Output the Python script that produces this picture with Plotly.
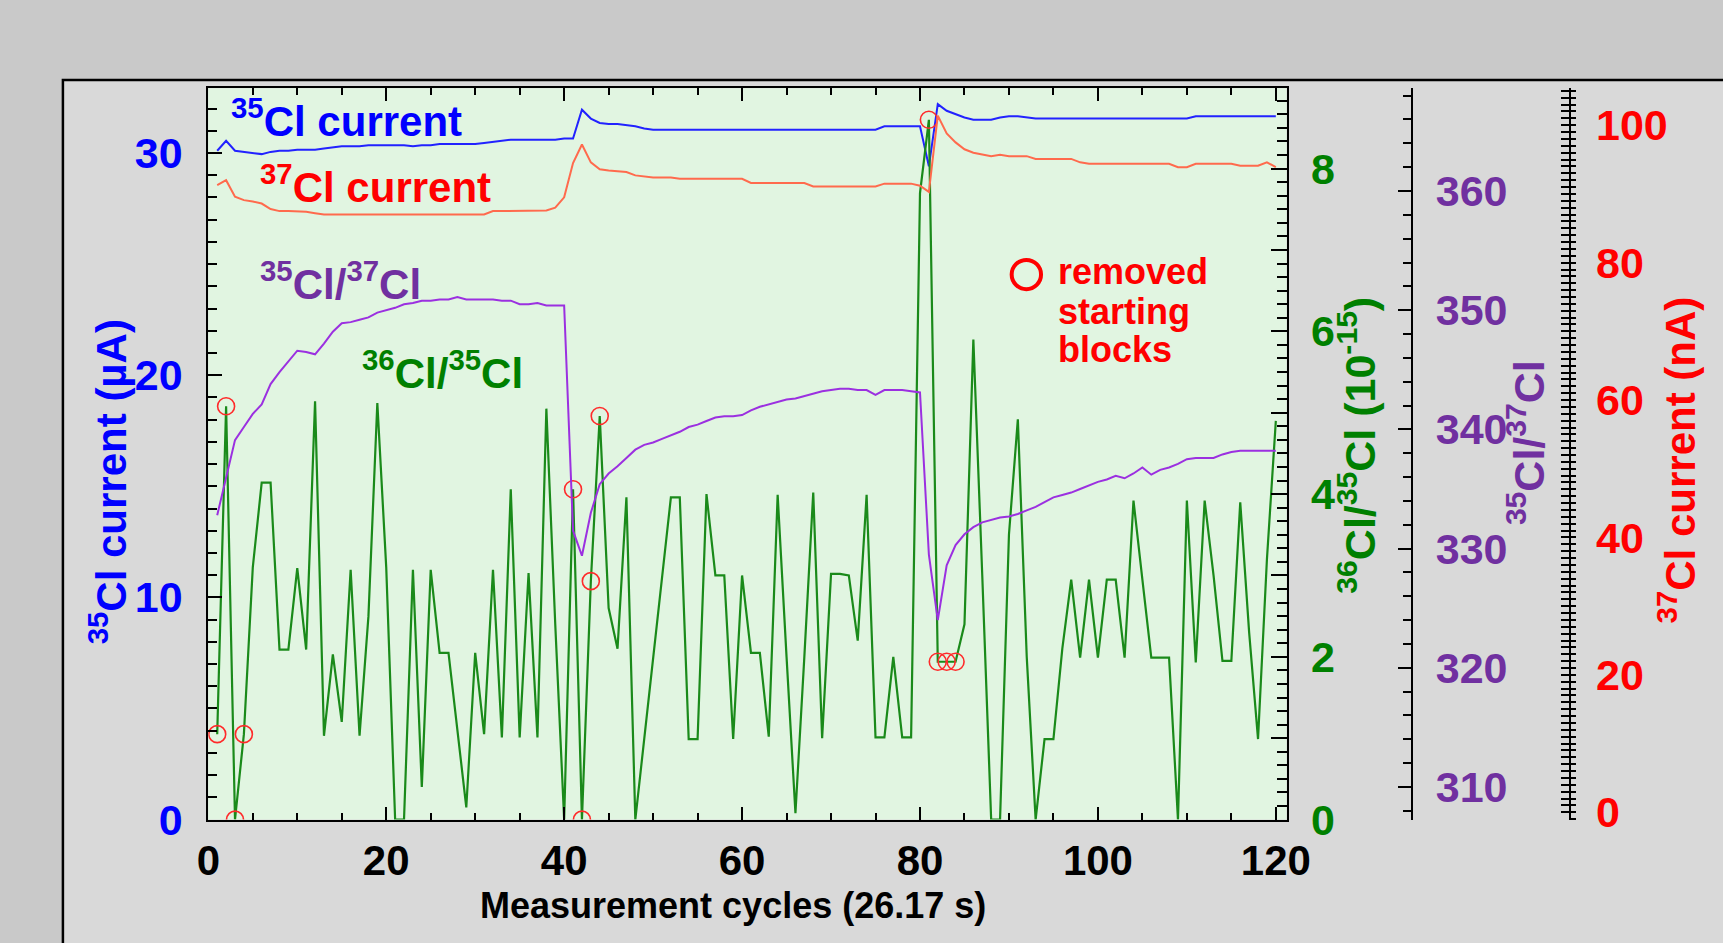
import plotly.graph_objects as go

W, H = 1723, 943

# ---------------- data ----------------
cycles = list(range(1, 121))

cl35_current_uA = [
    30.1, 30.55, 30.1, 30.05, 30.0, 29.95, 30.05, 30.1, 30.1, 30.15,
    30.15, 30.15, 30.2, 30.25, 30.3, 30.3, 30.3, 30.35, 30.35, 30.35,
    30.35, 30.35, 30.3, 30.35, 30.35, 30.4, 30.4, 30.4, 30.4, 30.4,
    30.45, 30.5, 30.55, 30.6, 30.6, 30.6, 30.6, 30.6, 30.6, 30.65,
    30.65, 31.95, 31.55, 31.35, 31.3, 31.3, 31.25, 31.2, 31.1, 31.05,
    31.05, 31.05, 31.05, 31.05, 31.05, 31.05, 31.05, 31.05, 31.05, 31.05,
    31.05, 31.05, 31.05, 31.05, 31.05, 31.05, 31.05, 31.05, 31.05, 31.05,
    31.05, 31.05, 31.05, 31.05, 31.05, 31.2, 31.2, 31.2, 31.2, 31.2,
    29.4, 32.2, 31.9, 31.75, 31.6, 31.5, 31.5, 31.5, 31.6, 31.65,
    31.65, 31.6, 31.55, 31.55, 31.55, 31.55, 31.55, 31.55, 31.55, 31.55,
    31.55, 31.55, 31.55, 31.55, 31.55, 31.55, 31.55, 31.55, 31.55, 31.55,
    31.65, 31.65, 31.65, 31.65, 31.65, 31.65, 31.65, 31.65, 31.65, 31.65,
]

cl37_current_nA = [
    91.3, 92.0, 89.6, 89.1, 88.9, 88.6, 87.8, 87.5, 87.5, 87.5,
    87.4, 87.2, 87.0, 87.0, 87.0, 87.0, 87.0, 87.0, 87.0, 87.0,
    87.0, 87.0, 87.0, 87.0, 87.0, 87.0, 87.0, 87.0, 87.0, 87.0,
    87.0, 87.5, 87.5, 87.5, 87.5, 87.6, 87.6, 87.6, 88.0, 89.5,
    94.5, 97.2, 94.6, 93.6, 93.4, 93.3, 93.2, 92.7, 92.5, 92.4,
    92.4, 92.4, 92.2, 92.2, 92.2, 92.2, 92.2, 92.2, 92.2, 92.2,
    91.6, 91.6, 91.6, 91.6, 91.6, 91.6, 91.6, 91.1, 91.1, 91.1,
    91.1, 91.1, 91.1, 91.1, 91.1, 91.5, 91.5, 91.5, 91.5, 91.2,
    90.3, 101.4, 98.8, 97.5, 96.5, 96.0, 95.7, 95.5, 95.7, 95.5,
    95.5, 95.5, 95.1, 95.1, 95.1, 95.1, 95.1, 94.6, 94.4, 94.4,
    94.4, 94.4, 94.4, 94.4, 94.4, 94.4, 94.4, 94.4, 93.9, 93.9,
    94.4, 94.4, 94.4, 94.4, 94.4, 94.1, 94.1, 94.1, 94.6, 93.9,
]

ratio_35_37 = [
    332.8, 336.0, 339.1, 340.2, 341.3, 342.1, 343.8, 344.8, 345.7, 346.6,
    346.5, 346.3, 347.2, 348.2, 348.9, 349.0, 349.2, 349.4, 349.8, 350.0,
    350.2, 350.5, 350.6, 350.8, 350.8, 350.9, 350.9, 351.1, 350.9, 350.9,
    350.9, 350.9, 350.8, 350.8, 350.5, 350.5, 350.6, 350.4, 350.4, 350.4,
    331.5, 329.4, 333.0, 335.4, 336.3, 336.9, 337.6, 338.3, 338.7, 338.9,
    339.2, 339.5, 339.8, 340.2, 340.4, 340.7, 341.0, 341.1, 341.1, 341.2,
    341.6, 341.9, 342.1, 342.3, 342.5, 342.6, 342.8, 343.0, 343.2, 343.3,
    343.4, 343.4, 343.3, 343.3, 342.9, 343.3, 343.3, 343.3, 343.2, 343.1,
    329.5, 324.0, 328.6, 330.3, 331.2, 331.8, 332.2, 332.4, 332.6, 332.7,
    332.9, 333.2, 333.5, 333.9, 334.3, 334.5, 334.7, 335.0, 335.3, 335.6,
    335.8, 336.1, 335.9, 336.3, 336.8, 336.2, 336.6, 336.8, 337.1, 337.5,
    337.6, 337.6, 337.6, 337.9, 338.1, 338.2, 338.2, 338.2, 338.2, 338.2,
]

ratio_36_35 = [
    1.05, 5.08, 0.0, 1.05, 3.1, 4.14, 4.14, 2.09, 2.09, 3.09,
    2.09, 5.14, 1.03, 2.03, 1.2, 3.07, 1.03, 2.5, 5.12, 3.1,
    0.0, 0.0, 3.07, 0.4, 3.07, 2.05, 2.05, 1.1, 0.15, 2.05,
    1.05, 3.07, 1.01, 4.06, 1.01, 3.03, 1.01, 5.05, 2.4, 0.0,
    4.06, 0.0, 2.93, 4.96, 2.6, 2.1, 3.96, 0.0, 1.0, 2.0,
    3.0, 3.96, 3.96, 0.99, 0.99, 4.0, 3.0, 3.0, 0.99, 3.0,
    2.05, 2.05, 1.02, 3.99, 2.0, 0.08, 2.0, 4.02, 1.0, 3.02,
    3.02, 3.0, 2.2, 3.99, 1.01, 1.01, 2.0, 1.01, 1.01, 7.7,
    8.6, 1.94, 1.94, 1.94, 2.4, 5.9, 3.0, 0.0, 0.0, 3.5,
    4.92, 2.0, 0.0, 0.99, 0.99, 2.1, 2.95, 1.99, 2.95, 1.99,
    2.95, 2.95, 1.99, 3.92, 2.95, 1.99, 1.99, 1.99, 0.0, 3.92,
    1.93, 3.92, 3.0, 1.95, 1.95, 3.9, 2.3, 0.99, 3.2, 4.9,
]

removed_cycles = [1, 2, 3, 4, 41, 42, 43, 44, 81, 82, 83, 84]

x_tick_vals = [0, 20, 40, 60, 80, 100, 120]
left_tick_vals = [0, 10, 20, 30]
green_tick_vals = [0, 2, 4, 6, 8]
green_long_ticks = [0, 1, 2, 3, 4, 5, 6, 7, 8]
purple_tick_vals = [310, 320, 330, 340, 350, 360]
red_tick_vals = [0, 20, 40, 60, 80, 100]

# ---------------- styling ----------------
FONT = "Liberation Sans, Arial, Helvetica, sans-serif"
BLUE = "#0000ff"
RED = "#ff0000"
PURPLE_T = "#7030a0"
GREEN_T = "#008000"
LINE_BLUE = "#2222ff"
LINE_RED = "#ff6a4d"
LINE_PURPLE = "#9b30e0"
LINE_GREEN = "#1a8a1a"
PAPER = "#c9c9c9"
TICK_SIZE = 43


def px(x):
    return x / W


def py(y):
    return 1 - y / H


X0, X1 = 200.5, 1301.7
YT, YB = 90.5, 841.0
xdom = [px(X0), px(X1)]
ydom = [py(YB), py(YT)]

G_RANGE = [0, (YB - YT) / 83.5]
R_RANGE = [(833.5 - YB) / 7.05, (833.5 - YT) / 7.05]

removed_vals = [ratio_36_35[cycles.index(c)] for c in removed_cycles]

fig = go.Figure()
fig.add_trace(go.Scatter(x=cycles, y=ratio_36_35, yaxis="y2", mode="lines",
                         line=dict(color=LINE_GREEN, width=2.2),
                         hoverinfo="skip"))
fig.add_trace(go.Scatter(x=cycles, y=ratio_36_35, yaxis="y6", mode="lines",
                         line=dict(color=LINE_GREEN, width=1), opacity=0,
                         hoverinfo="skip"))
fig.add_trace(go.Scatter(x=cycles, y=ratio_35_37, yaxis="y3", mode="lines",
                         line=dict(color=LINE_PURPLE, width=2), hoverinfo="skip"))
fig.add_trace(go.Scatter(x=cycles, y=cl37_current_nA, yaxis="y4", mode="lines",
                         line=dict(color=LINE_RED, width=2), hoverinfo="skip"))
fig.add_trace(go.Scatter(x=cycles, y=cl37_current_nA, yaxis="y5", mode="lines",
                         line=dict(color=LINE_RED, width=1), opacity=0,
                         hoverinfo="skip"))
fig.add_trace(go.Scatter(x=cycles, y=cl35_current_uA, yaxis="y", mode="lines",
                         line=dict(color=LINE_BLUE, width=2), hoverinfo="skip"))
fig.add_trace(go.Scatter(x=removed_cycles, y=removed_vals, yaxis="y2",
                         mode="markers",
                         marker=dict(symbol="circle-open", size=17,
                                     color="#ff2a2a", line=dict(width=1.6)),
                         hoverinfo="skip"))


def tickfont(c, s=TICK_SIZE):
    return dict(family=FONT, size=s, color=c, weight="bold")


fig.update_layout(
    width=W, height=H, autosize=False,
    margin=dict(l=0, r=0, t=0, b=0),
    paper_bgcolor=PAPER,
    plot_bgcolor="rgba(0,0,0,0)",
    showlegend=False,
    font=dict(family=FONT),
    xaxis=dict(
        domain=xdom, range=[0, 121.2], showgrid=False, zeroline=False,
        showline=True, linecolor="black", linewidth=2, mirror="ticks",
        ticks="inside", ticklen=13, tickwidth=2, tickcolor="black",
        tickvals=x_tick_vals, tickfont=tickfont("black", 42),
        ticklabelstandoff=3,
        minor=dict(dtick=5, ticks="inside", ticklen=7, tickwidth=2,
                   tickcolor="black", showgrid=False),
    ),
    yaxis=dict(
        domain=ydom, range=[0, (YB - YT) / 22.8], showgrid=False,
        zeroline=False, showline=True, linecolor="black", linewidth=2,
        ticks="inside", ticklen=14, tickwidth=2, tickcolor="black",
        tickvals=left_tick_vals, tickfont=tickfont(BLUE),
        ticklabelstandoff=15,
        minor=dict(dtick=1, ticks="inside", ticklen=9, tickwidth=2,
                   tickcolor="black", showgrid=False),
    ),
    yaxis2=dict(
        overlaying="y", anchor="x", side="right",
        range=G_RANGE, showgrid=False, zeroline=False,
        showline=True, linecolor="black", linewidth=2,
        ticks="inside", ticklen=16, tickwidth=2, tickcolor="black",
        tickvals=green_tick_vals,
        tickfont=tickfont(GREEN_T), ticklabelstandoff=14,
        minor=dict(dtick=1 / 6, ticks="inside", ticklen=10, tickwidth=2,
                   tickcolor="black", showgrid=False),
    ),
    yaxis6=dict(
        overlaying="y", anchor="x", side="right",
        range=G_RANGE, showgrid=False, zeroline=False, showline=False,
        ticks="inside", ticklen=16, tickwidth=2, tickcolor="black",
        tickvals=green_long_ticks, showticklabels=False,
    ),
    yaxis3=dict(
        overlaying="y", anchor="free", position=px(1430), side="right",
        range=[360 - (YB - 196) / 12.23, 360 + (196 - YT) / 12.23],
        showgrid=False, zeroline=False,
        showline=True, linecolor="black", linewidth=2,
        ticks="inside", ticklen=13, tickwidth=2, tickcolor="black",
        tickvals=purple_tick_vals, tickfont=tickfont(PURPLE_T),
        ticklabelstandoff=14,
        minor=dict(dtick=2, ticks="inside", ticklen=8, tickwidth=2,
                   tickcolor="black", showgrid=False),
    ),
    yaxis4=dict(
        overlaying="y", anchor="free", position=px(1591.7), side="right",
        range=R_RANGE, showgrid=False, zeroline=False,
        showline=True, linecolor="black", linewidth=2,
        ticks="inside", ticklen=8, tickwidth=2, tickcolor="black",
        tickvals=red_tick_vals, tickfont=tickfont(RED),
        ticklabelstandoff=16,
        minor=dict(dtick=1, ticks="inside", ticklen=8, tickwidth=2,
                   tickcolor="black", showgrid=False),
    ),
    yaxis5=dict(
        overlaying="y", anchor="free", position=px(1591.7), side="right",
        range=R_RANGE, showgrid=False, zeroline=False, showline=False,
        ticks="outside", ticklen=5, tickwidth=2, tickcolor="black",
        dtick=1, showticklabels=False,
    ),
)

shapes = [
    # outer panel
    dict(type="rect", xref="paper", yref="paper", layer="below",
         x0=px(52), x1=1.05, y0=-0.05, y1=py(82),
         fillcolor="#d9d9d9", line=dict(color="black", width=2.5)),
    # plot area background
    dict(type="rect", xref="x domain", yref="y domain", layer="below",
         x0=0, x1=1, y0=0, y1=1, fillcolor="#e1f5e1", line=dict(width=0)),
    # legend circle for removed blocks
    dict(type="circle", xref="paper", yref="paper", layer="above",
         x0=px(1036 - 15), x1=px(1036 + 15), y0=py(281.7 + 15),
         y1=py(281.7 - 15), line=dict(color=RED, width=4)),
]
fig.update_layout(shapes=shapes)


def ann(text, x, y, color, size, xanchor="left", angle=0):
    return dict(text=text, x=px(x), y=py(y), xref="paper", yref="paper",
                xanchor=xanchor, yanchor="middle", showarrow=False,
                textangle=angle,
                font=dict(family=FONT, size=size, color=color, weight="bold"))


annotations = [
    ann("<sup>35</sup>Cl current", 222, 121, BLUE, 42),
    ann("<sup>37</sup>Cl current", 251, 189, RED, 42),
    ann("<sup>35</sup>Cl/<sup>37</sup>Cl", 251, 288, PURPLE_T, 42),
    ann("<sup>36</sup>Cl/<sup>35</sup>Cl", 355, 380, GREEN_T, 42),
    ann("removed", 1066, 279, RED, 36),
    ann("starting", 1066, 320, RED, 36),
    ann("blocks", 1066, 359, RED, 36),
    ann("Measurement cycles (26.17 s)", 736, 929, "black", 36, "center"),
    ann("<sup>35</sup>Cl current (µA)", 99, 494, BLUE, 42, "center", -90),
    ann("<sup>36</sup>Cl/<sup>35</sup>Cl (10<sup>-15</sup>)", 1374, 457,
        GREEN_T, 43, "center", -90),
    ann("<sup>35</sup>Cl/<sup>37</sup>Cl", 1547, 454, PURPLE_T, 43,
        "center", -90),
    ann("<sup>37</sup>Cl current (nA)", 1701, 472, RED, 42, "center", -90),
]
fig.update_layout(annotations=annotations)

page_fix = (
    "document.documentElement.style.margin='0';"
    "document.body.style.margin='0';"
    "document.body.style.overflow='hidden';"
    "document.body.style.background='" + PAPER + "';"
)

fig.write_html("out.html", post_script=page_fix,
               config={"displayModeBar": False})
